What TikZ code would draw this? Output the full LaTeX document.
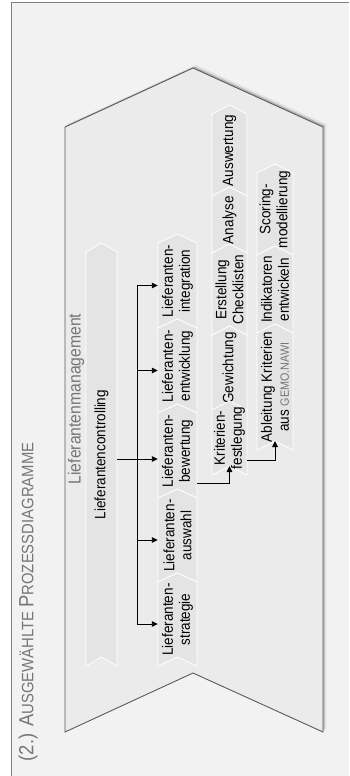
\documentclass[tikz,border=0pt]{standalone}
\usepackage{fontspec}
\setmainfont[FakeStretch=0.9]{Liberation Sans}
\usetikzlibrary{arrows.meta,shadows,calc}

\definecolor{pagegray}{HTML}{F2F2F2}
\definecolor{framegray}{HTML}{808080}
\definecolor{shapegray}{HTML}{EBEBEB}
\definecolor{chevgray}{HTML}{E4E4E4}
\definecolor{edgegray}{HTML}{5A5A5A}
\definecolor{textgray}{HTML}{767676}

\def\tip{9}

\begin{document}
\begin{tikzpicture}[x=1pt,y=-1pt,>={Triangle[length=6pt,width=5.5pt]}]
      \tikzstyle{chev}=[fill=chevgray,draw=white,line width=0.8pt]
      \tikzstyle{body}=[inner sep=0pt]
      \tikzstyle{chevtext}=[rotate=90,align=center,inner sep=0pt,font=\fontsize{15}{16.8}\selectfont,text=black]
      \tikzstyle{link}=[->,black,line width=0.9pt]

      \useasboundingbox (0,0) rectangle (349,776);
      \fill[white] (0,0) rectangle (349,776);

      % Draw the frame
      \fill[pagegray] (11.5,2.5) rectangle (349,776);
      \draw[framegray,line width=1.3pt] (11.5,776) -- (11.5,2.5) -- (349,2.5);

      % Draw the big chevron
      \filldraw[fill=shapegray,draw=edgegray,line width=0.9pt,
          drop shadow={shadow xshift=3pt,shadow yshift=3pt,opacity=.15},
          drop shadow={shadow xshift=1.5pt,shadow yshift=1.5pt,opacity=.45}]
          (65,127) -- (193,68) -- (323,127) -- (323,732) -- (193,673) -- (65,732) -- cycle;

      \node[text=textgray,rotate=90,inner sep=0pt,font=\fontsize{17.5}{19}\selectfont] (mgmt) at (76,399) {Lieferantenmanagement};

      % Draw the chevrons: name/x/top/bottom/width/text
      \foreach \name/\x/\ys/\yb/\w/\txt in {
          ctrl/101.5/252/666/31/Lieferantencontrolling,
          integ/177.5/243/328/39/{Lieferanten-\\integration},
          entw/177.5/328/413/39/{Lieferanten-\\entwicklung},
          bew/177.5/413/498/39/{Lieferanten-\\bewertung},
          ausw/177.5/498/582/39/{Lieferanten-\\auswahl},
          strat/177.5/582/666/39/{Lieferanten-\\strategie},
          auswert/229.5/114/196/35/Auswertung,
          anal/229.5/196/253/35/Analyse,
          erst/229.5/253/335/35/{Erstellung\\Checklisten},
          gew/229.5/335/410/35/Gewichtung,
          krit/229.5/410/475/35/{Kriterien-\\festlegung},
          scor/275/173/255/36/{Scoring-\\modellierung},
          indik/275/255/333/36/{Indikatoren\\entwickeln},
          ableit/275/333/450/36/{Ableitung Kriterien\\aus {\color{textgray}\fontsize{12}{16.8}\selectfont GEMO.NAWI}}}
      {
          \path[chev] (\x-\w/2,\ys) -- (\x,\ys-\tip) -- (\x+\w/2,\ys) -- (\x+\w/2,\yb) -- (\x,\yb-\tip) -- (\x-\w/2,\yb) -- cycle;
          \node[body,minimum width=\w pt,minimum height={(\yb-\ys)*1pt}] (\name) at (\x,{(\ys+\yb)/2}) {};
          \node[chevtext] (\name-t) at (\x,{(\ys+\yb-\tip)/2}) {\txt};
          \coordinate (\name-n) at (\x,\yb-\tip);
      }

      % Connect the controlling with the process chain
      \coordinate (bus) at ($(ctrl.east)!0.5!(ctrl.east -| bew.west)$);
      \draw[link] (ctrl.east) -- (ctrl.east -| bew.west);
      \foreach \dest in {integ,entw,ausw,strat}
          \draw[link] (bus) |- (\dest.west);

      % Connect the evaluation with its sub-steps
      \draw[link] ($(bew.south east)+(0,-15)$) -| (krit-n);
      \draw[link] ($(krit.east)+(0,18)$) -| (ableit-n);

      % Title
      \node[rotate=90,text=textgray,inner sep=0pt] (title) at (28,602) {\fontsize{20.5}{20}\selectfont (2.) A\fontsize{16.5}{16}\selectfont USGEWÄHLTE \fontsize{20.5}{20}\selectfont P\fontsize{16.5}{16}\selectfont ROZESSDIAGRAMME};
\end{tikzpicture}
\end{document}
